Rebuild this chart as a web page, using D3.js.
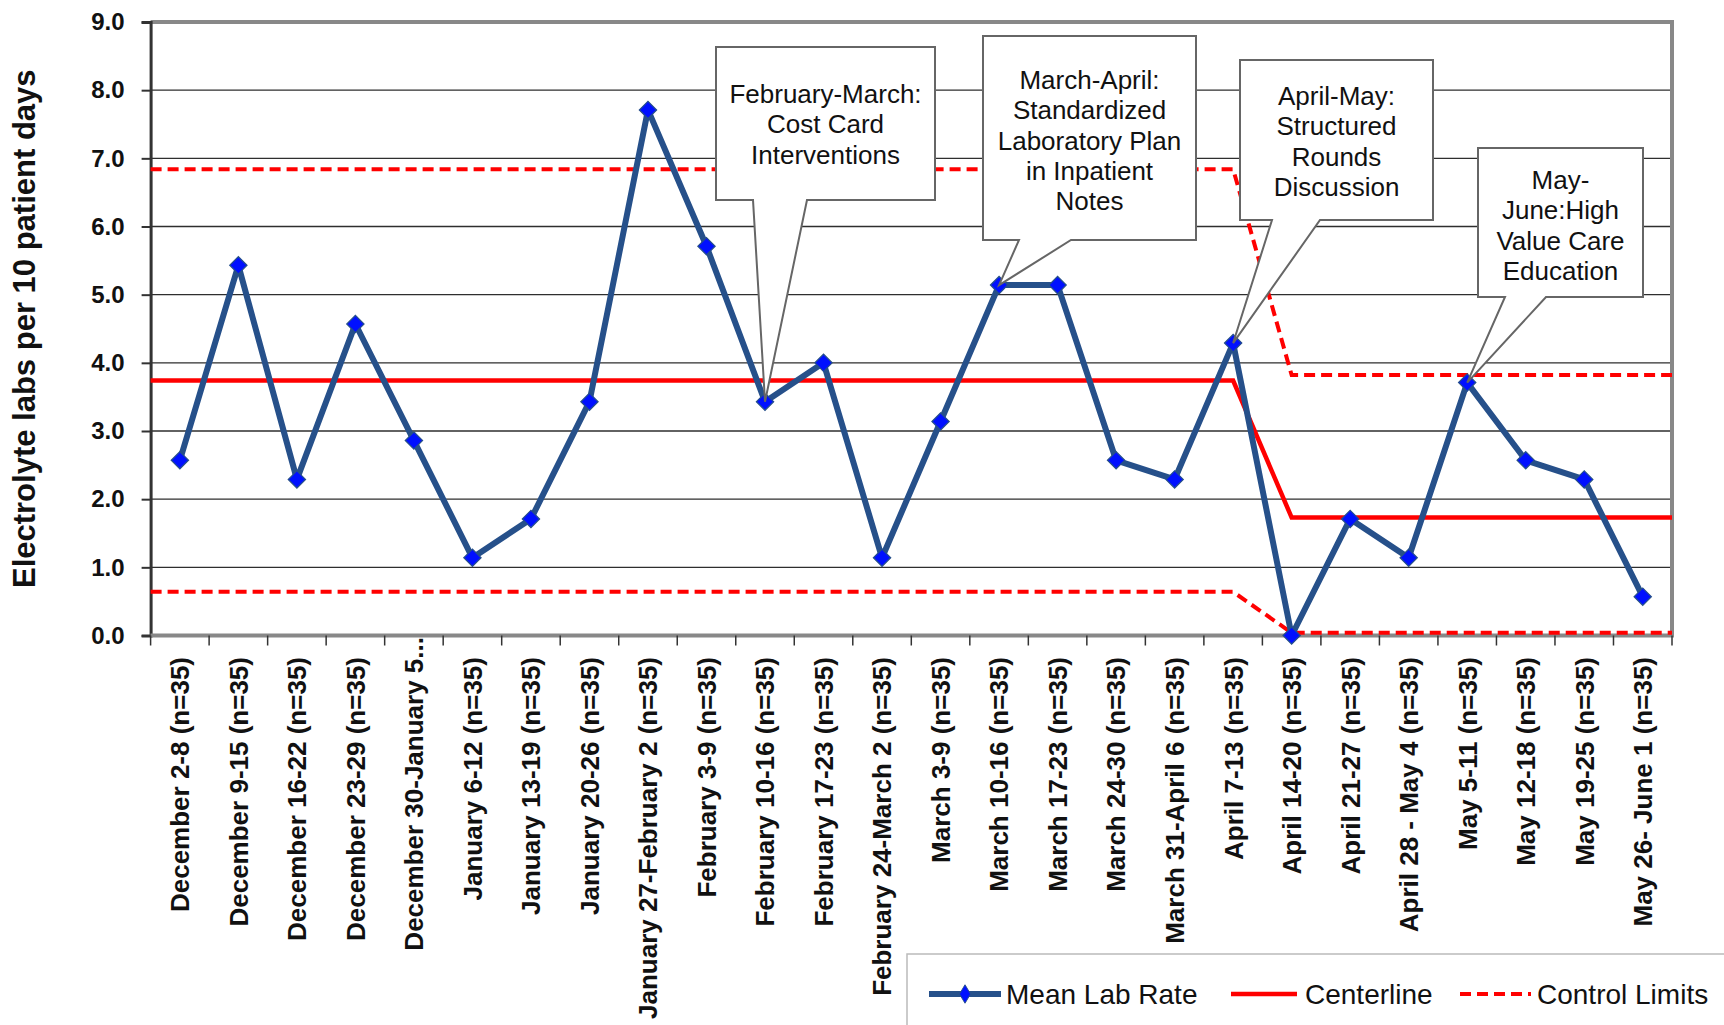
<!DOCTYPE html>
<html>
<head>
<meta charset="utf-8">
<script src="https://cdn.jsdelivr.net/npm/d3@7"></script>
<style>
  html, body { margin: 0; padding: 0; background: #fff; }
  svg { display: block; font-family: "Liberation Sans", Arial, sans-serif; }
</style>
</head>
<body>
<svg id="chart" width="1724" height="1025"></svg>
<script>
const categories = [
  "December 2-8 (n=35)", "December 9-15 (n=35)", "December 16-22 (n=35)", "December 23-29 (n=35)",
  "December 30-January 5...", "January 6-12 (n=35)", "January 13-19 (n=35)", "January 20-26 (n=35)",
  "January 27-February 2 (n=35)", "February 3-9 (n=35)", "February 10-16 (n=35)", "February 17-23 (n=35)",
  "February 24-March 2 (n=35)", "March 3-9 (n=35)", "March 10-16 (n=35)", "March 17-23 (n=35)",
  "March 24-30 (n=35)", "March 31-April 6 (n=35)", "April 7-13 (n=35)", "April 14-20 (n=35)",
  "April 21-27 (n=35)", "April 28 - May 4 (n=35)", "May 5-11 (n=35)", "May 12-18 (n=35)",
  "May 19-25 (n=35)", "May 26- June 1 (n=35)"
];
const meanLabRate = [2.57, 5.43, 2.29, 4.57, 2.86, 1.14, 1.71, 3.43, 7.71, 5.71, 3.43, 4.00, 1.14,
  3.14, 5.14, 5.14, 2.57, 2.29, 4.29, 0.00, 1.71, 1.14, 3.71, 2.57, 2.29, 0.57];
const centerline = [3.74, 3.74, 3.74, 3.74, 3.74, 3.74, 3.74, 3.74, 3.74, 3.74, 3.74, 3.74, 3.74,
  3.74, 3.74, 3.74, 3.74, 3.74, 3.74, 1.73, 1.73, 1.73, 1.73, 1.73, 1.73, 1.73];
const upperLimit = [6.84, 6.84, 6.84, 6.84, 6.84, 6.84, 6.84, 6.84, 6.84, 6.84, 6.84, 6.84, 6.84,
  6.84, 6.84, 6.84, 6.84, 6.84, 6.84, 3.82, 3.82, 3.82, 3.82, 3.82, 3.82, 3.82];
const lowerLimit = [0.64, 0.64, 0.64, 0.64, 0.64, 0.64, 0.64, 0.64, 0.64, 0.64, 0.64, 0.64, 0.64,
  0.64, 0.64, 0.64, 0.64, 0.64, 0.64, 0.04, 0.04, 0.04, 0.04, 0.04, 0.04, 0.04];
const yTicks = [0, 1, 2, 3, 4, 5, 6, 7, 8, 9];
const yTitle = "Electrolyte labs per 10 patient days";
const annotations = [
  { cat: "February 10-16 (n=35)", lines: ["February-March:", "Cost Card", "Interventions"] },
  { cat: "March 10-16 (n=35)", lines: ["March-April:", "Standardized", "Laboratory Plan", "in Inpatient", "Notes"] },
  { cat: "April 7-13 (n=35)", lines: ["April-May:", "Structured", "Rounds", "Discussion"] },
  { cat: "May 5-11 (n=35)", lines: ["May-", "June:High", "Value Care", "Education"] }
];
const legendItems = ["Mean Lab Rate", "Centerline", "Control Limits"];

// layout (positions/styles kept separate from data)
const plot = { left: 150.6, right: 1672, top: 22, bottom: 635.5 };
const boxLayout = [
  { x0: 716, x1: 935, y0: 47, y1: 200, b0: 753, b1: 807, firstLine: 94 },
  { x0: 983, x1: 1196, y0: 36, y1: 240, b0: 1019, b1: 1071, firstLine: 80 },
  { x0: 1240, x1: 1433, y0: 60, y1: 220, b0: 1272, b1: 1320, firstLine: 96 },
  { x0: 1478, x1: 1643, y0: 148, y1: 297, b0: 1505, b1: 1546, firstLine: 180 }
];
const NAVY = "#26508a", RED = "#ff0000";

const svg = d3.select("#chart");
const x = d3.scaleBand().domain(categories).range([plot.left, plot.right]).padding(0);
const y = d3.scaleLinear().domain([0, 9]).range([plot.bottom, plot.top]);
const cx = c => x(c) + x.bandwidth() / 2;

// gridlines
svg.append("g").selectAll("line").data(yTicks.filter(d => d > 0 && d < 9)).join("line")
  .attr("x1", plot.left).attr("x2", plot.right)
  .attr("y1", d => y(d)).attr("y2", d => y(d))
  .attr("stroke", "#2e2e2e").attr("stroke-width", 1.3);

// frame top & right
svg.append("line").attr("x1", plot.left).attr("x2", plot.right).attr("y1", y(9)).attr("y2", y(9))
  .attr("stroke", "#888").attr("stroke-width", 4);
svg.append("line").attr("x1", plot.right).attr("x2", plot.right).attr("y1", y(9) - 2).attr("y2", plot.bottom)
  .attr("stroke", "#888").attr("stroke-width", 4);

// y axis
const yAxis = svg.append("g").attr("transform", `translate(${plot.left},0)`)
  .call(d3.axisLeft(y).tickValues(yTicks).tickFormat(d3.format(".1f")).tickSize(9).tickPadding(17));
yAxis.select(".domain").attr("stroke", "#333").attr("stroke-width", 3);
yAxis.selectAll(".tick line").attr("stroke", "#333").attr("stroke-width", 2);
yAxis.selectAll("text").attr("font-size", 24).attr("font-weight", "bold").attr("fill", "#111")
  .attr("font-family", "Liberation Sans, Arial, sans-serif");

// x axis
const xAxisG = svg.append("g").attr("transform", `translate(0,${plot.bottom})`);
xAxisG.append("line").attr("x1", plot.left).attr("x2", plot.right + 2).attr("y1", 0).attr("y2", 0)
  .attr("stroke", "#888").attr("stroke-width", 4);
const boundaries = categories.map(c => x(c)).concat([plot.right]);
xAxisG.selectAll("line.tk").data(boundaries).join("line").attr("class", "tk")
  .attr("x1", d => d).attr("x2", d => d).attr("y1", 0).attr("y2", 10)
  .attr("stroke", "#333").attr("stroke-width", 1.5);
svg.append("g").selectAll("text").data(categories).join("text")
  .attr("transform", d => `translate(${cx(d)},${d.endsWith("...") ? 637 : 657}) rotate(-90)`)
  .attr("text-anchor", "end").attr("dy", "0.36em")
  .attr("font-size", 26).attr("font-weight", "bold").attr("fill", "#111")
  .text(d => d);

// y title
svg.append("text").attr("transform", `translate(24,${(plot.top + plot.bottom) / 2}) rotate(-90)`)
  .attr("text-anchor", "middle").attr("dy", "0.36em")
  .attr("font-size", 31).attr("font-weight", "bold").attr("fill", "#111").text(yTitle);

// step lines extended to plot edges
function extendedLine(values) {
  const pts = categories.map((c, i) => [cx(c), y(values[i])]);
  pts.unshift([x.range()[0], y(values[0])]);
  pts.push([x.range()[1], y(values[values.length - 1])]);
  return d3.line()(pts);
}
svg.append("path").attr("d", extendedLine(upperLimit)).attr("fill", "none")
  .attr("stroke", RED).attr("stroke-width", 4).attr("stroke-dasharray", "11,6");
svg.append("path").attr("d", extendedLine(lowerLimit)).attr("fill", "none")
  .attr("stroke", RED).attr("stroke-width", 4).attr("stroke-dasharray", "11,6");
svg.append("path").attr("d", extendedLine(centerline)).attr("fill", "none")
  .attr("stroke", RED).attr("stroke-width", 4.5);

// data line
svg.append("path")
  .attr("d", d3.line().x((d, i) => cx(categories[i])).y(d => y(d))(meanLabRate))
  .attr("fill", "none").attr("stroke", NAVY).attr("stroke-width", 6).attr("stroke-linejoin", "round");
svg.append("g").selectAll("path").data(meanLabRate).join("path")
  .attr("transform", (d, i) => `translate(${cx(categories[i])},${y(d)}) rotate(45)`)
  .attr("d", d3.symbol().type(d3.symbolSquare).size(150))
  .attr("fill", "#0010ff").attr("stroke", NAVY).attr("stroke-width", 1.2);

// callouts
annotations.forEach((a, k) => {
  const b = boxLayout[k];
  const i = categories.indexOf(a.cat);
  const tx = cx(a.cat), ty = y(meanLabRate[i]);
  const p = d3.path();
  p.moveTo(b.x0, b.y0); p.lineTo(b.x1, b.y0); p.lineTo(b.x1, b.y1); p.lineTo(b.b1, b.y1);
  p.lineTo(tx, ty); p.lineTo(b.b0, b.y1); p.lineTo(b.x0, b.y1); p.closePath();
  svg.append("path").attr("d", p.toString()).attr("fill", "#fff")
    .attr("stroke", "#666").attr("stroke-width", 2).attr("stroke-linejoin", "miter");
  const t = svg.append("text").attr("text-anchor", "middle").attr("font-size", 26).attr("fill", "#111");
  a.lines.forEach((ln, j) => {
    t.append("tspan").attr("x", (b.x0 + b.x1) / 2).attr("y", b.firstLine + j * 30.2)
      .attr("dy", "0.35em").text(ln);
  });
});

// legend
const lg = svg.append("g");
lg.append("rect").attr("x", 907).attr("y", 954).attr("width", 830).attr("height", 100)
  .attr("fill", "#fff").attr("stroke", "#bbb").attr("stroke-width", 1.5);
const ly = 994;
lg.append("line").attr("x1", 929).attr("x2", 1001).attr("y1", ly).attr("y2", ly)
  .attr("stroke", NAVY).attr("stroke-width", 6);
lg.append("path").attr("transform", `translate(965,${ly}) scale(0.6,1) rotate(45)`)
  .attr("d", d3.symbol().type(d3.symbolSquare).size(170))
  .attr("fill", "#0010ff").attr("stroke", NAVY).attr("stroke-width", 1);
lg.append("line").attr("x1", 1231).attr("x2", 1297).attr("y1", ly).attr("y2", ly)
  .attr("stroke", RED).attr("stroke-width", 4.5);
lg.append("line").attr("x1", 1460).attr("x2", 1531).attr("y1", ly).attr("y2", ly)
  .attr("stroke", RED).attr("stroke-width", 4).attr("stroke-dasharray", "11,6");
const legX = [1006, 1305, 1537];
legendItems.forEach((s, i) => {
  lg.append("text").attr("x", legX[i]).attr("y", ly).attr("dy", "0.36em")
    .attr("font-size", 28).attr("fill", "#111").text(s);
});
</script>
</body>
</html>
